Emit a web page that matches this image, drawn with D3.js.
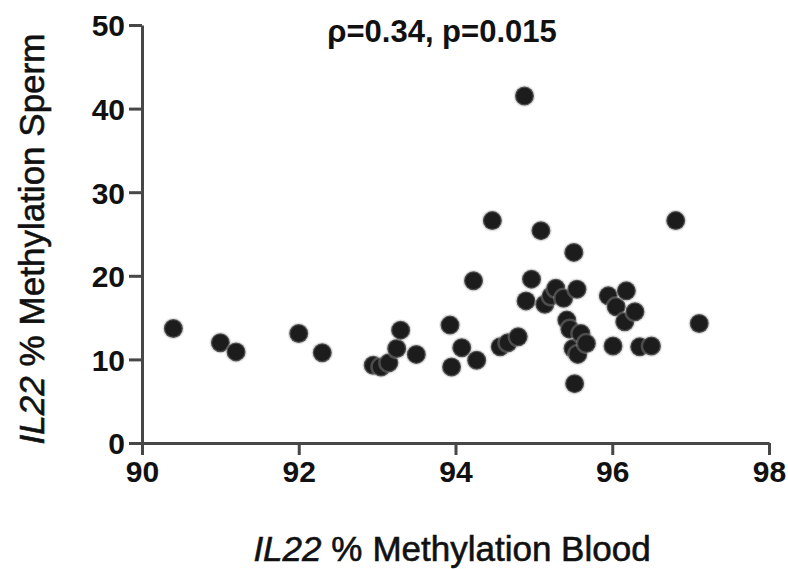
<!DOCTYPE html>
<html>
<head>
<meta charset="utf-8">
<script src="https://cdn.jsdelivr.net/npm/d3@7"></script>
<style>
  body { margin: 0; background: #fff; }
  .axis path, .axis line { stroke: #474747; stroke-width: 3px; }
  .axis text { font-family: "Liberation Sans", Arial, sans-serif; font-weight: bold; font-size: 30px; fill: #111; }
  .label { font-family: "Liberation Sans", Arial, sans-serif; font-size: 35px; fill: #111; stroke: #111; stroke-width: 0.6px; }
</style>
</head>
<body>
<div id="chart-area"></div>
<script>
/* Data */
const blood = [90.4, 91.0, 91.2, 92.0, 92.3, 92.95, 93.05, 93.15, 93.25, 93.3,
               93.5, 93.93, 93.95, 94.08, 94.23, 94.27, 94.47, 94.57, 94.67, 94.8,
               94.88, 94.9, 94.97, 95.09, 95.14, 95.22, 95.28, 95.38, 95.42, 95.46,
               95.5, 95.51, 95.52, 95.55, 95.56, 95.6, 95.67, 95.95, 96.01, 96.05,
               96.16, 96.18, 96.29, 96.35, 96.5, 96.81, 97.11];
const sperm = [13.7, 12.0, 10.9, 13.1, 10.8, 9.3, 9.1, 9.6, 11.3, 13.5,
               10.6, 14.1, 9.1, 11.4, 19.4, 9.9, 26.6, 11.5, 12.0, 12.7,
               41.5, 17.0, 19.6, 25.4, 16.6, 17.6, 18.5, 17.3, 14.7, 13.6,
               11.3, 22.8, 7.1, 18.4, 10.6, 13.1, 11.9, 17.6, 11.6, 16.3,
               14.5, 18.2, 15.7, 11.5, 11.6, 26.6, 14.3];
const xTicks = [90, 92, 94, 96, 98];
const yTicks = [0, 10, 20, 30, 40, 50];
const title = 'ρ=0.34, p=0.015';

const points = blood.map((b, i) => ({ x: b, y: sperm[i] }));

/* SVG */
const W = 788, H = 569;
const margin = { left: 142, right: 19, top: 25, bottom: 126 };
const width  = W - margin.left - margin.right;
const height = H - margin.top  - margin.bottom;

const svg = d3.select('#chart-area')
    .append('svg')
    .attr('width', W)
    .attr('height', H);

const g = svg.append('g')
    .attr('transform', `translate(${margin.left}, ${margin.top})`);

/* Scales */
const xScale = d3.scaleLinear().domain([90, 98]).range([0, width]);
const yScale = d3.scaleLinear().domain([0, 50]).range([height, 0]);

/* Axis */
g.append('g')
    .attr('class', 'x axis')
    .attr('transform', `translate(0,${height})`)
    .call(d3.axisBottom(xScale).tickValues(xTicks).tickSize(12).tickSizeOuter(0).tickPadding(6));

g.append('g')
    .attr('class', 'y axis')
    .call(d3.axisLeft(yScale).tickValues(yTicks).tickSize(13).tickSizeOuter(0).tickPadding(4));

g.selectAll('.y.axis text').attr('dy', '0.36em');

/* Points */
g.selectAll('circle')
    .data(points)
    .enter().append('circle')
        .attr('cx', d => xScale(d.x))
        .attr('cy', d => yScale(d.y))
        .attr('r', 9.5)
        .attr('fill', '#1c1c1c')
        .attr('stroke', 'rgba(170,170,170,0.35)')
        .attr('stroke-width', 2.5);

/* Labels */
svg.append('text')
    .attr('x', 442).attr('y', 42)
    .attr('text-anchor', 'middle')
    .attr('font-family', '"Liberation Sans", Arial, sans-serif')
    .attr('font-weight', 'bold')
    .attr('font-size', '31px')
    .attr('fill', '#111')
    .text(title);

const xLabel = svg.append('text')
    .attr('class', 'label')
    .attr('x', 452).attr('y', 561)
    .attr('text-anchor', 'middle');
xLabel.append('tspan').attr('font-style', 'italic').text('IL22');
xLabel.append('tspan').text(' %');
xLabel.append('tspan').attr('dx', 10).text('Methylation Blood');

const yLabel = svg.append('text')
    .attr('class', 'label')
    .attr('transform', 'translate(44, 239) rotate(-90)')
    .attr('text-anchor', 'middle');
yLabel.append('tspan').attr('font-style', 'italic').text('IL22');
yLabel.append('tspan').text(' %');
yLabel.append('tspan').attr('dx', 10).text('Methylation Sperm');
</script>
</body>
</html>
